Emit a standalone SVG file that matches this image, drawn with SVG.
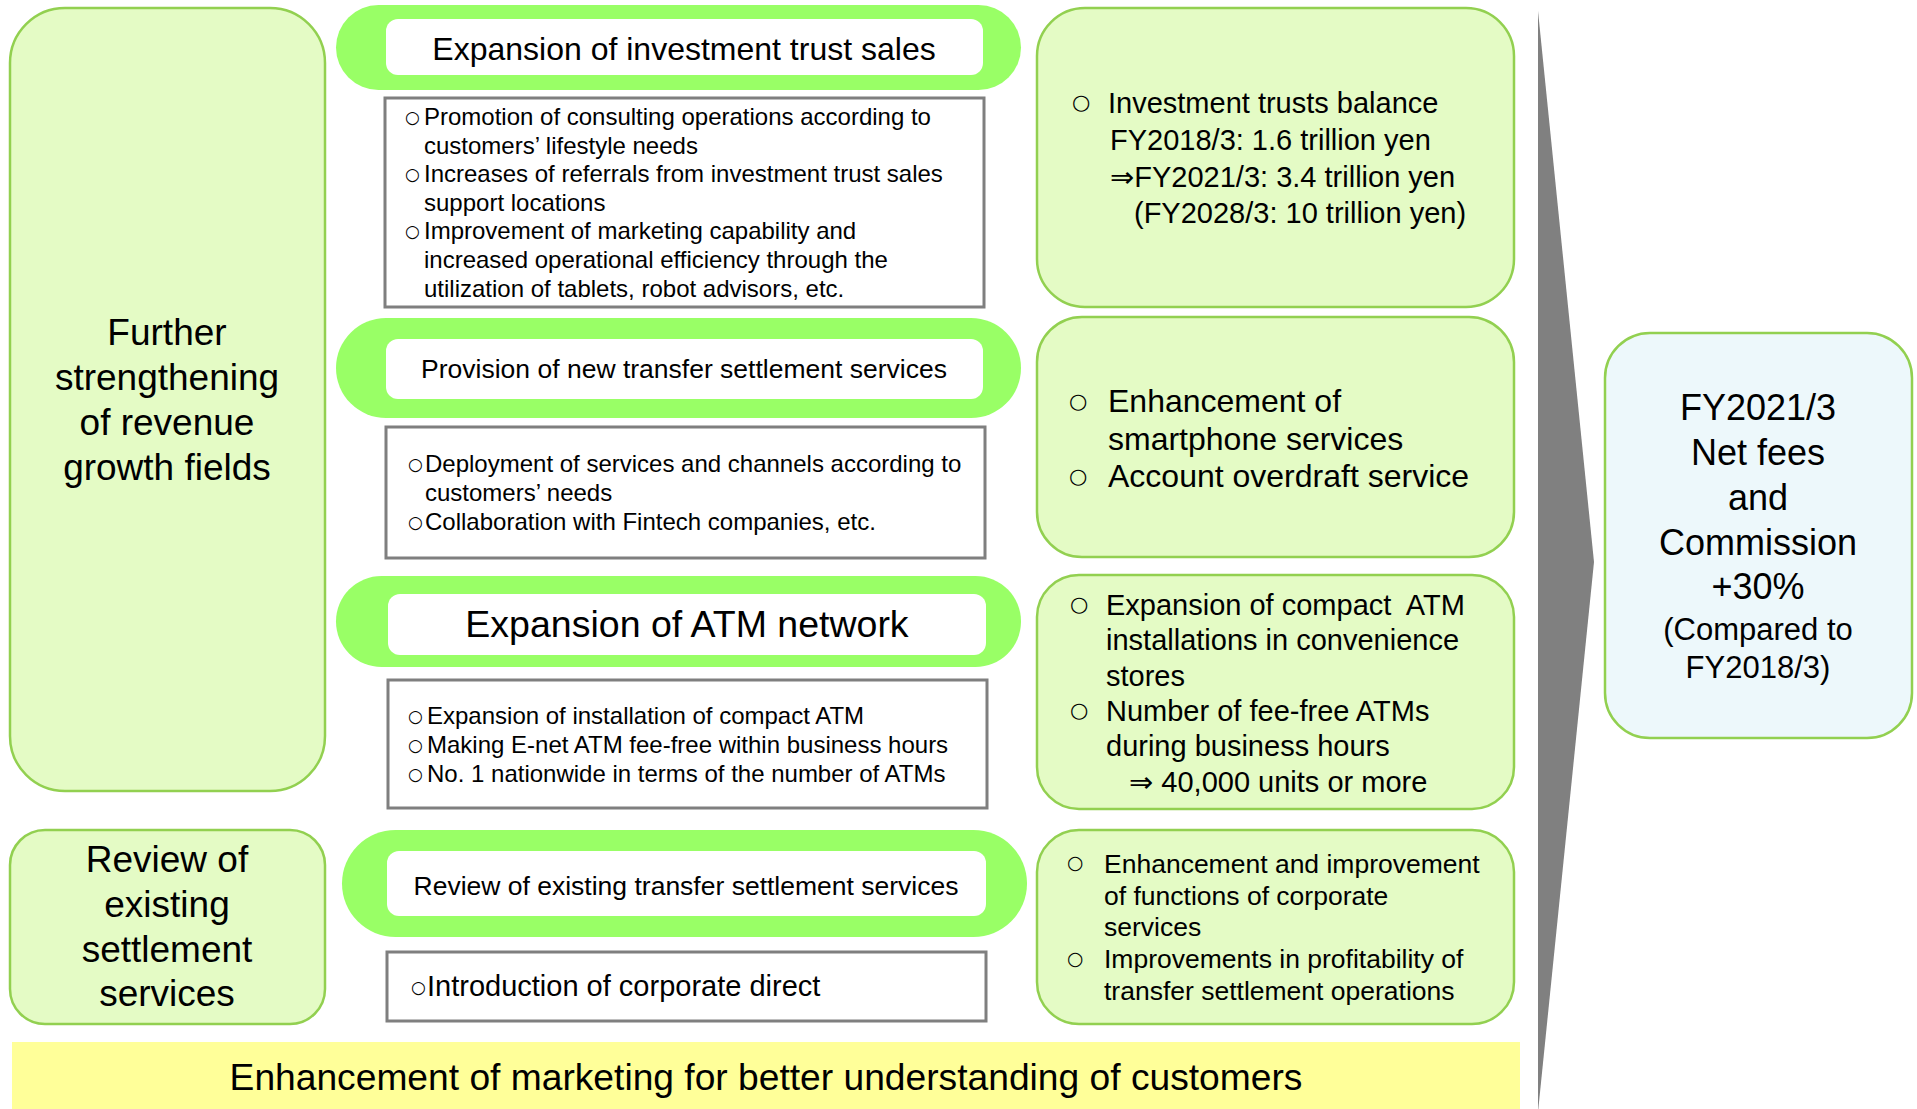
<svg xmlns="http://www.w3.org/2000/svg" width="1917" height="1109" viewBox="0 0 1917 1109">
<style>
text{font-family:"Liberation Sans",Arial,"DejaVu Sans",sans-serif;fill:#000}
.lg{fill:#E4FBC5;stroke:#92D050;stroke-width:2.5}
.pill{fill:#99FF66;stroke:none}
.inner{fill:#FFFFFF;stroke:none}
.tb{fill:#FFFFFF;stroke:#7F7F7F;stroke-width:3}
.res{fill:#EDF8FB;stroke:#92D050;stroke-width:2.5}
.big{font-size:37px;text-anchor:middle}
.mid{font-size:24px}
.rt{font-size:29px}
text.bs{font-family:"DejaVu Sans",sans-serif;font-size:17px}
text.bl{font-family:"DejaVu Sans",sans-serif;font-size:21px}
</style>
<rect width="1917" height="1109" fill="#FFFFFF"/>

<g id="connectors">
<polygon points="1538,11 1594,562 1538,1112" fill="#808080"/>
</g>

<g id="group-growth">
<rect class="lg" x="10" y="8" width="315" height="783" rx="55" ry="55"/>
<text class="big" x="167" y="345">Further</text>
<text class="big" x="167" y="390">strengthening</text>
<text class="big" x="167" y="435">of revenue</text>
<text class="big" x="167" y="480">growth fields</text>
</g>

<g id="group-review">
<rect class="lg" x="10" y="830" width="315" height="194" rx="35" ry="35"/>
<text class="big" x="167" y="872">Review of</text>
<text class="big" x="167" y="917">existing</text>
<text class="big" x="167" y="962">settlement</text>
<text class="big" x="167" y="1006">services</text>
</g>

<g id="pill-investment">
<rect class="pill" x="336" y="5" width="685" height="85" rx="42.5"/>
<rect class="inner" x="386" y="19" width="597" height="56" rx="12"/>
<text x="684" y="59.5" font-size="32" text-anchor="middle">Expansion of investment trust sales</text>
</g>

<g id="box-investment">
<rect class="tb" x="385" y="98" width="599" height="209"/>
<text class="bs" x="405" y="123">○</text>
<text class="mid" x="424" y="125">Promotion of consulting operations according to</text>
<text class="mid" x="424" y="153.6">customers’ lifestyle needs</text>
<text class="bs" x="405" y="180.2">○</text>
<text class="mid" x="424" y="182.2">Increases of referrals from investment trust sales</text>
<text class="mid" x="424" y="210.8">support locations</text>
<text class="bs" x="405" y="237.4">○</text>
<text class="mid" x="424" y="239.4">Improvement of marketing capability and</text>
<text class="mid" x="424" y="268">increased operational efficiency through the</text>
<text class="mid" x="424" y="296.6">utilization of tablets, robot advisors, etc.</text>
</g>

<g id="pill-transfer">
<rect class="pill" x="336" y="318" width="685" height="100" rx="50"/>
<rect class="inner" x="386" y="339" width="597" height="60" rx="12"/>
<text x="684" y="378" font-size="26.5" text-anchor="middle">Provision of new transfer settlement services</text>
</g>

<g id="box-transfer">
<rect class="tb" x="386" y="427" width="599" height="131"/>
<text class="bs" x="408" y="470.3">○</text>
<text class="mid" x="425" y="472.3">Deployment of services and channels according to</text>
<text class="mid" x="425" y="501">customers’ needs</text>
<text class="bs" x="408" y="528">○</text>
<text class="mid" x="425" y="530">Collaboration with Fintech companies, etc.</text>
</g>

<g id="pill-atm">
<rect class="pill" x="336" y="576" width="685" height="91" rx="45.5"/>
<rect class="inner" x="388" y="594" width="598" height="61" rx="12"/>
<text x="687" y="637" font-size="37.5" text-anchor="middle">Expansion of ATM network</text>
</g>

<g id="box-atm">
<rect class="tb" x="388" y="680" width="599" height="128"/>
<text class="bs" x="408" y="722">○</text>
<text class="mid" x="427" y="724">Expansion of installation of compact ATM</text>
<text class="bs" x="408" y="750.7">○</text>
<text class="mid" x="427" y="752.7">Making E-net ATM fee-free within business hours</text>
<text class="bs" x="408" y="779.7">○</text>
<text class="mid" x="427" y="781.7">No. 1 nationwide in terms of the number of ATMs</text>
</g>

<g id="pill-review">
<rect class="pill" x="342" y="830" width="685" height="107" rx="53.5"/>
<rect class="inner" x="387" y="851" width="599" height="65" rx="12"/>
<text x="686" y="895" font-size="26.5" text-anchor="middle">Review of existing transfer settlement services</text>
</g>

<g id="box-review">
<rect class="tb" x="387" y="952" width="599" height="69"/>
<text class="bs" x="411" y="993">○</text>
<text x="427" y="996" font-size="29">Introduction of corporate direct</text>
</g>

<g id="result-investment">
<rect class="lg" x="1037" y="8" width="477" height="299" rx="48" ry="48"/>
<text class="bl" x="1072" y="109">○</text>
<text class="rt" x="1108" y="113">Investment trusts balance</text>
<text class="rt" x="1110" y="150">FY2018/3: 1.6 trillion yen</text>
<text class="rt" x="1110" y="186.5">⇒FY2021/3: 3.4 trillion yen</text>
<text class="rt" x="1134" y="223">(FY2028/3: 10 trillion yen)</text>
</g>

<g id="result-transfer">
<rect class="lg" x="1037" y="317" width="477" height="240" rx="45" ry="45"/>
<text class="bl" x="1069" y="407.5">○</text>
<text x="1108" y="412" font-size="32">Enhancement of</text>
<text x="1108" y="449.5" font-size="32">smartphone services</text>
<text class="bl" x="1069" y="482.5">○</text>
<text x="1108" y="487" font-size="32">Account overdraft service</text>
</g>

<g id="result-atm">
<rect class="lg" x="1037" y="575" width="477" height="234" rx="42" ry="42"/>
<text class="bl" x="1070" y="611">○</text>
<text class="rt" x="1106" y="615" xml:space="preserve">Expansion of compact  ATM</text>
<text class="rt" x="1106" y="650.3">installations in convenience</text>
<text class="rt" x="1106" y="685.6">stores</text>
<text class="bl" x="1070" y="717">○</text>
<text class="rt" x="1106" y="720.9">Number of fee-free ATMs</text>
<text class="rt" x="1106" y="756.2">during business hours</text>
<text class="rt" x="1129" y="791.5">⇒ 40,000 units or more</text>
</g>

<g id="result-review">
<rect class="lg" x="1037" y="830" width="477" height="194" rx="42" ry="42"/>
<text class="bl" x="1067" y="869" style="font-size:19px">○</text>
<text x="1104" y="872.7" font-size="26.5">Enhancement and improvement</text>
<text x="1104" y="904.5" font-size="26.5">of functions of corporate</text>
<text x="1104" y="936.3" font-size="26.5">services</text>
<text class="bl" x="1067" y="964.5" style="font-size:19px">○</text>
<text x="1104" y="968.1" font-size="26.5">Improvements in profitability of</text>
<text x="1104" y="999.9" font-size="26.5">transfer settlement operations</text>
</g>

<g id="marketing">
<rect x="12" y="1042" width="1508" height="67" fill="#FFFF99"/>
<text x="766" y="1090" font-size="37.2" text-anchor="middle">Enhancement of marketing for better understanding of customers</text>
</g>

<g id="target">
<rect class="res" x="1605" y="333" width="307" height="405" rx="45" ry="45"/>
<text x="1758" y="420" font-size="36" text-anchor="middle">FY2021/3</text>
<text x="1758" y="465" font-size="36" text-anchor="middle">Net fees</text>
<text x="1758" y="510" font-size="36" text-anchor="middle">and</text>
<text x="1758" y="555" font-size="36" text-anchor="middle">Commission</text>
<text x="1758" y="599" font-size="36" text-anchor="middle">+30%</text>
<text x="1758" y="640" font-size="31" text-anchor="middle">(Compared to</text>
<text x="1758" y="678" font-size="31" text-anchor="middle">FY2018/3)</text>
</g>
</svg>
